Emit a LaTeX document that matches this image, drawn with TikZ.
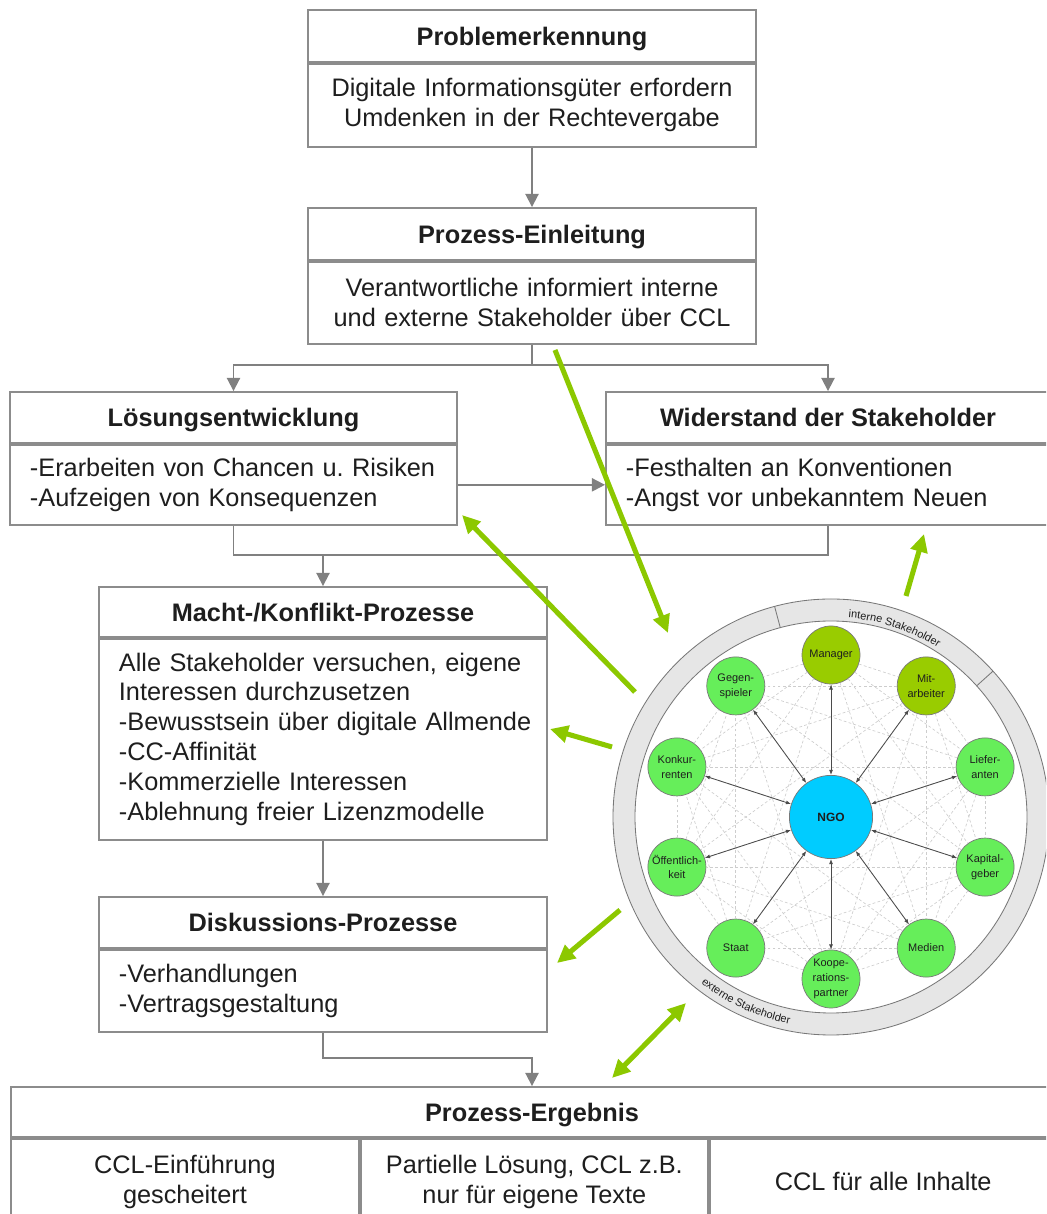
\documentclass[tikz,border=0pt]{standalone}
\usepackage{fontspec}
\setmainfont{Liberation Sans}
\usetikzlibrary{positioning,arrows.meta,decorations.text}

\definecolor{boxgray}{RGB}{140,140,140}
\definecolor{flowgray}{RGB}{128,128,128}
\definecolor{limegreen}{RGB}{140,200,0}
\definecolor{satgreen}{RGB}{102,238,90}
\definecolor{olivegreen}{RGB}{153,204,0}
\definecolor{ngoblue}{RGB}{0,204,255}
\definecolor{ringfill}{RGB}{230,230,230}
\definecolor{ringline}{RGB}{120,120,120}
\definecolor{webgray}{RGB}{205,205,205}
\definecolor{txtgray}{RGB}{30,30,30}

\begin{document}
\begin{tikzpicture}
    [x=0.025cm, y=0.025cm,
     every node/.style={text=txtgray, font=\fontsize{18}{21.3}\selectfont},
     hdr/.style={draw=boxgray, line width=1.3pt, fill=white, inner sep=0pt, text depth=0pt, font=\fontsize{18}{21.3}\selectfont\bfseries},
     bdyc/.style={draw=boxgray, line width=1.3pt, fill=white, anchor=north, align=center, inner xsep=0.5cm, inner ysep=0pt},
     bdy/.style={draw=boxgray, line width=1.3pt, fill=white, anchor=north, align=left, inner xsep=0.3cm, inner ysep=0pt,
                 execute at begin node={\leftskip=0.2cm\relax}},
     cell/.style={draw=boxgray, line width=1.3pt, fill=white, anchor=north west, align=center, minimum height=2.15cm, inner sep=0pt},
     flow/.style={draw=flowgray, line width=1.3pt, -{Triangle[length=0.33cm,width=0.33cm]}},
     link/.style={draw=flowgray, line width=1.3pt},
     lime/.style={draw=limegreen, line width=3.6pt, -{Triangle[length=0.45cm,width=0.42cm]}},
     limeboth/.style={draw=limegreen, line width=3.6pt, {Triangle[length=0.45cm,width=0.42cm]}-{Triangle[length=0.45cm,width=0.42cm]}},
     sat/.style={circle, draw=ringline, line width=0.5pt, minimum size=1.45cm, inner sep=0pt, align=center, font=\fontsize{7.8}{10.5}\selectfont},
     spoke/.style={draw=txtgray!80, line width=0.6pt, {Latex[length=1.3mm,width=1mm]}-{Latex[length=1.3mm,width=1mm]}},
     web/.style={draw=webgray, line width=0.45pt, dash pattern=on 2pt off 1.6pt}]
  \useasboundingbox (0,0) rectangle (1046,1214);
  \clip (0,0) rectangle (1046,1214);

  % flow chart
  \node[hdr, minimum width=11.2cm, minimum height=1.3cm] (pk-h) at (532,1178) {Problemerkennung};
  \node[bdyc, text width=10.2cm, minimum height=2.075cm] (pk-b) at (pk-h.south) {Digitale Informationsgüter erfordern\\Umdenken in der Rechtevergabe};

  \node[hdr, minimum width=11.2cm, minimum height=1.3cm] (pei-h) at (532,980) {Prozess-Einleitung};
  \node[bdyc, text width=10.2cm, minimum height=2.05cm] (pei-b) at (pei-h.south) {Verantwortliche informiert interne\\und externe Stakeholder über CCL};

  \node[hdr, minimum width=11.175cm, minimum height=1.275cm] (le-h) at (233.5,796.5) {Lösungsentwicklung};
  \node[bdy, text width=10.575cm, minimum height=2.0cm] (le-b) at (le-h.south) {-Erarbeiten von Chancen u.\ Risiken\\-Aufzeigen von Konsequenzen};

  \node[hdr, minimum width=11.1cm, minimum height=1.275cm] (ws-h) at (828,796.5) {Widerstand der Stakeholder};
  \node[bdy, text width=10.5cm, minimum height=2.0cm] (ws-b) at (ws-h.south) {-Festhalten an Konventionen\\-Angst vor unbekanntem Neuen};

  \node[hdr, minimum width=11.2cm, minimum height=1.25cm] (mk-h) at (323,602) {Macht-/Konflikt-Prozesse};
  \node[bdy, text width=10.6cm, minimum height=5.025cm] (mk-b) at (mk-h.south) {Alle Stakeholder versuchen, eigene\\Interessen durchzusetzen\\-Bewusstsein über digitale Allmende\\-CC-Affinität\\-Kommerzielle Interessen\\-Ablehnung freier Lizenzmodelle};

  \node[hdr, minimum width=11.2cm, minimum height=1.275cm] (dp-h) at (323,291.5) {Diskussions-Prozesse};
  \node[bdy, text width=10.6cm, minimum height=2.05cm] (dp-b) at (dp-h.south) {-Verhandlungen\\-Vertragsgestaltung};

  \node[hdr, minimum width=26.05cm, minimum height=1.25cm] (pe-h) at (532,102) {Prozess-Ergebnis};
  \node[cell, minimum width=8.7cm] (pe-c1) at (pe-h.south west) {CCL-Einführung\\gescheitert};
  \node[cell, minimum width=8.675cm] (pe-c2) at (pe-c1.north east) {Partielle Lösung, CCL z.B.\\nur für eigene Texte};
  \node[cell, minimum width=8.675cm] (pe-c3) at (pe-c2.north east) {CCL für alle Inhalte};

  \coordinate (split1) at (532,849);
  \coordinate (join1) at (323,659);
  \coordinate (join2) at (532,156);

  \draw[flow] (pk-b.south) -- (pei-h.north);
  \draw[link] (pei-b.south) -- (split1);
  \draw[flow] (split1) -| (le-h.north);
  \draw[flow] (split1) -| (ws-h.north);
  \draw[flow] (le-b.east) -- (ws-b.west);
  \draw[link] (le-b.south) |- (ws-b.south |- join1) -- (ws-b.south);
  \draw[flow] (join1) -- (mk-h.north);
  \draw[flow] (mk-b.south) -- (dp-h.north);
  \draw[flow] (dp-b.south) |- (join2) -- (pe-h.north);

  % stakeholder ring
  \coordinate (hub) at (831,397);
  \draw[ringline, line width=0.6pt, fill=ringfill] (hub) circle (218);
  \draw[ringline, line width=0.6pt, fill=white] (hub) circle (196);
  \draw[ringline, line width=0.6pt] ([shift={(105:196)}]hub) -- ([shift={(105:218)}]hub);
  \draw[ringline, line width=0.6pt] ([shift={(42:196)}]hub) -- ([shift={(42:218)}]hub);
  \path[decorate, decoration={text along path, text align=left, text={|\fontsize{7.8}{9}\selectfont\color{txtgray}|interne Stakeholder}}]
    ([shift={(85:200)}]hub) arc[start angle=85, end angle=40, radius=200];
  \path[decorate, decoration={text along path, text align=left, text={|\fontsize{7.8}{9}\selectfont\color{txtgray}|externe Stakeholder}}]
    ([shift={(232:211)}]hub) arc[start angle=232, end angle=275, radius=211];

  \foreach \n/\ang/\col/\txt in {0/90/olivegreen/Manager, 1/54/olivegreen/Mit-\\arbeiter,
      2/18/satgreen/Liefer-\\anten, 3/-18/satgreen/Kapital-\\geber, 4/-54/satgreen/Medien,
      5/-90/satgreen/Koope-\\rations-\\partner, 6/-126/satgreen/Staat,
      7/-162/satgreen/Öffentlich-\\keit, 8/162/satgreen/Konkur-\\renten, 9/126/satgreen/Gegen-\\spieler}
    \node[sat, fill=\col] (sh\n) at ([shift={(\ang:162)}]hub) {\txt};

  \foreach \i in {0,...,8} {
    \pgfmathtruncatemacro{\k}{\i+1}
    \foreach \j in {\k,...,9}
      \draw[web] (sh\i) -- (sh\j);
  }

  \node[circle, draw=ringline, line width=0.5pt, fill=ngoblue, minimum size=2.08cm, inner sep=0pt, font=\fontsize{8.5}{10}\selectfont\bfseries] (ngo) at (hub) {NGO};

  \foreach \n in {0,...,9}
    \draw[spoke] (ngo) -- (sh\n);

  % green arrows
  \coordinate (g1s) at (555,864);  \coordinate (g1e) at (668,581);
  \coordinate (g2s) at (635,522);  \coordinate (g2e) at (462,699);
  \coordinate (g3s) at (612,467);  \coordinate (g3e) at (550,485);
  \coordinate (g4s) at (620,304);  \coordinate (g4e) at (557,251);
  \coordinate (g5a) at (612,136);  \coordinate (g5b) at (686,211);
  \coordinate (g6s) at (906,618);  \coordinate (g6e) at (924,680);

  \draw[lime] (g1s) -- (g1e);
  \draw[lime] (g2s) -- (g2e);
  \draw[lime] (g3s) -- (g3e);
  \draw[lime] (g4s) -- (g4e);
  \draw[limeboth] (g5a) -- (g5b);
  \draw[lime] (g6s) -- (g6e);
\end{tikzpicture}
\end{document}
